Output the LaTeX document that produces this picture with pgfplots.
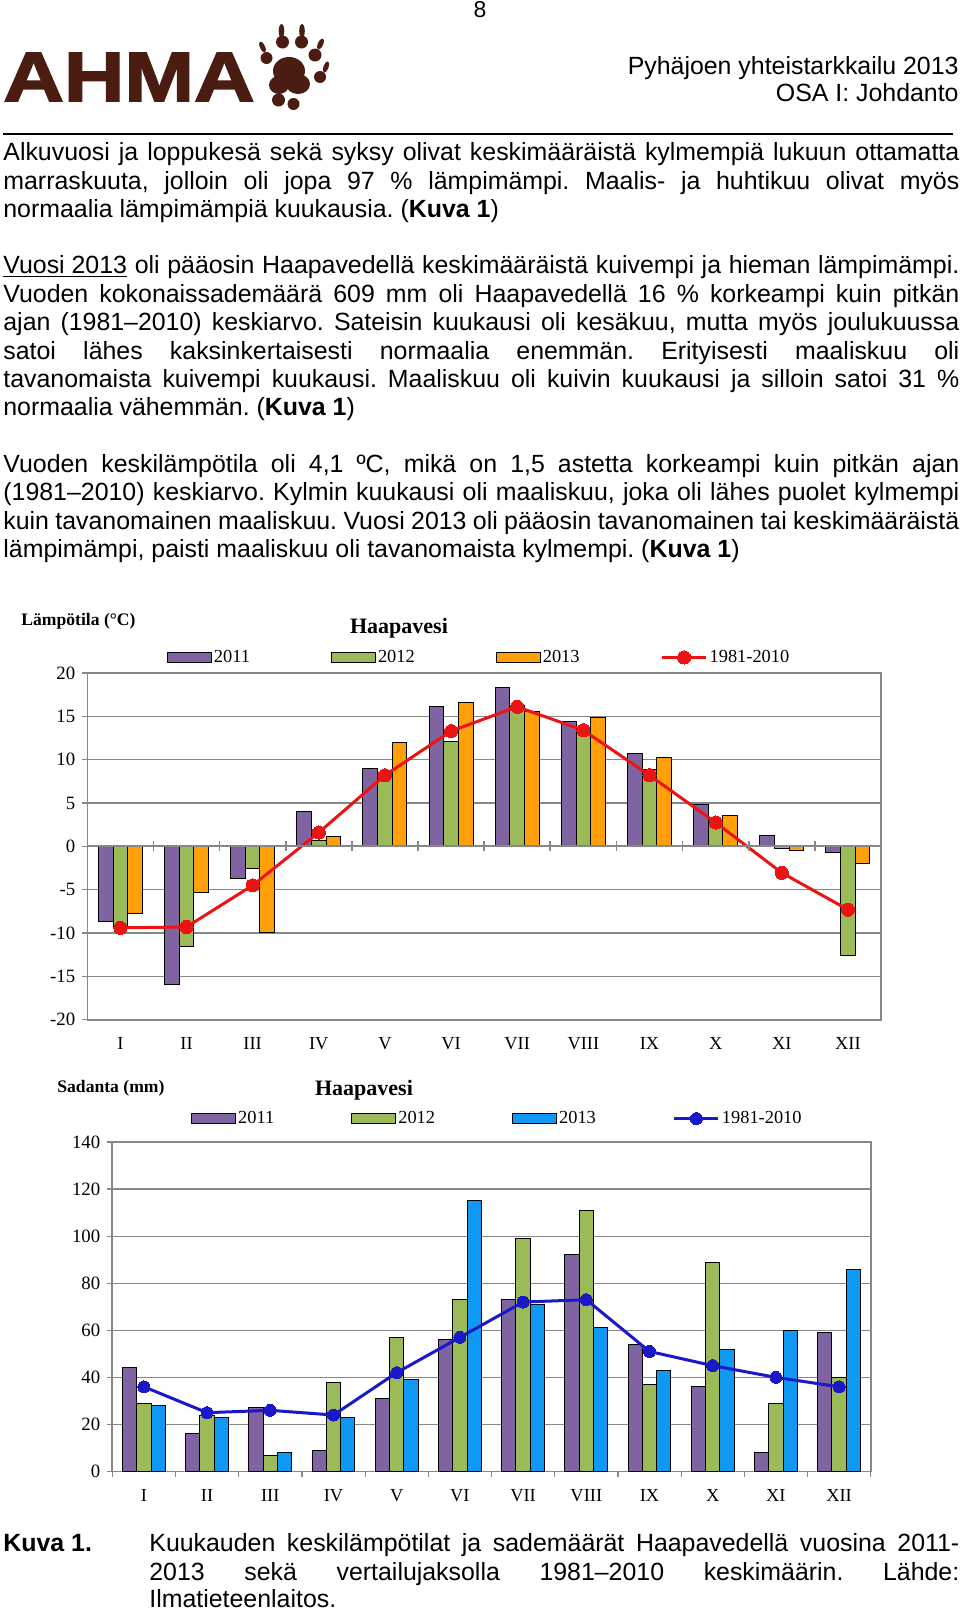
\documentclass[border=0pt]{standalone}
\usepackage{fontspec}
\setmainfont{Liberation Sans}
\newfontfamily\chartfont{Liberation Serif}
\newfontfamily\logofont{Liberation Sans Bold}[FakeStretch=1.2,FakeBold=2.5]
\usepackage{pgfplots}
\pgfplotsset{compat=1.18}
\usepackage{pgfplotstable}
\definecolor{c11}{RGB}{128,100,162}
\definecolor{c12}{RGB}{155,187,89}
\definecolor{c13}{RGB}{255,160,10}
\definecolor{c13b}{RGB}{16,152,245}
\definecolor{nred}{RGB}{235,20,20}
\definecolor{nblue}{RGB}{25,25,200}
\definecolor{gridc}{RGB}{135,135,135}
\definecolor{logobrown}{RGB}{74,28,18}
\newcommand\bodyfont{\fontsize{12.45}{14}\selectfont\frenchspacing}
\newcommand\cf{\chartfont\fontsize{9.2}{10}\selectfont}
\newcommand\tf{\chartfont\fontsize{9.4}{10}\selectfont}
\newcommand\jline[3]{\node[anchor=base west,inner sep=0pt,font=\bodyfont] at (#1) {\makebox[#2][s]{#3}};}
\newcommand\lline[2]{\node[anchor=base west,inner sep=0pt,font=\bodyfont] at (#1) {#2};}
\pgfplotsset{
  barleg/.style={legend image code/.code={\draw[##1] (0pt,-2.5pt) rectangle (22pt,2.5pt);}},
  lineleg/.style={legend image code/.code={\draw[##1,mark repeat=2,mark phase=2] plot coordinates {(0pt,0pt) (11pt,0pt) (22pt,0pt)};}},
}
\begin{document}
\frenchspacing
\pgfplotstableread{
m a b c n
1 -8.7 -9.5 -7.7 -9.4
2 -15.9 -11.6 -5.3 -9.3
3 -3.75 -2.6 -9.9 -4.5
4 4.0 0.7 1.1 1.6
5 9.0 8.0 12.0 8.2
6 16.1 12.1 16.6 13.3
7 18.3 16.3 15.6 16.1
8 14.4 13.4 14.9 13.4
9 10.7 8.85 10.2 8.2
10 4.8 2.9 3.6 2.75
11 1.3 -0.2 -0.45 -3.05
12 -0.75 -12.6 -2.0 -7.3
}\temptab
\pgfplotstableread{
m a b c n
1 44 29 28 36
2 16 24 23 25
3 27 7 8 26
4 9 38 23 24
5 31 57 39 42
6 56 73 115 57
7 73 99 71 72
8 92 111 61 73
9 54 37 43 51
10 36 89 52 45
11 8 29 60 40
12 59 40 86 36
}\raintab
\begin{tikzpicture}
\begin{scope}[x=0.5pt,y=-0.5pt]
\path[use as bounding box] (0,0) rectangle (960,1612);
\end{scope}
\clip (0pt,0pt) rectangle (480pt,-806pt);
\begin{scope}[x=0.5pt,y=-0.5pt]
% header
\node[anchor=base,inner sep=0pt,font=\fontsize{11.5}{13}\selectfont] at (480,17.5) {8};
\node[anchor=base west,inner sep=0pt,text=logobrown,font=\logofont\fontsize{34.9}{36}\selectfont] at (3,101) {AHMA};
\begin{scope}[fill=logobrown]
\fill (289,71) ellipse [x radius=16, y radius=14];
\fill (298,84) ellipse [x radius=12, y radius=10];
\fill (279,85) ellipse [x radius=10, y radius=9];
\fill (282.5,42) circle [radius=6.5];
\fill (281.5,31) ellipse [x radius=2.8, y radius=7];
\fill (301.5,42) circle [radius=6.5];
\fill (302,31) ellipse [x radius=2.8, y radius=7];
\fill (266.5,58) circle [radius=6];
\fill[rotate around={25:(262.5,47)}] (262.5,47) ellipse [x radius=2.5, y radius=6];
\fill (315,55) circle [radius=6.5];
\fill[rotate around={-25:(320.5,44)}] (320.5,44) ellipse [x radius=2.6, y radius=6];
\fill (320,77) circle [radius=6];
\fill[rotate around={-20:(326,67)}] (326,67) ellipse [x radius=2.5, y radius=6];
\fill (278.5,100) circle [radius=6.5];
\fill (293.5,104) circle [radius=6];
\end{scope}
\node[anchor=base east,inner sep=0pt,font=\bodyfont] at (959,74) {Pyhäjoen yhteistarkkailu 2013};
\node[anchor=base east,inner sep=0pt,font=\bodyfont] at (959,101) {OSA I: Johdanto};
\draw[line width=0.9pt] (3,134) -- (953,134);
% body
\jline{3,160.5}{478pt}{Alkuvuosi ja loppukesä sekä syksy olivat keskimääräistä kylmempiä lukuun ottamatta}
\jline{3,189}{478pt}{marraskuuta, jolloin oli jopa 97 \% lämpimämpi. Maalis- ja huhtikuu olivat myös}
\lline{3,217.5}{normaalia lämpimämpiä kuukausia. (\textbf{Kuva 1})}
\jline{3,273.5}{478pt}{\underline{Vuosi 2013} oli pääosin Haapavedellä keskimääräistä kuivempi ja hieman lämpimämpi.}
\jline{3,302}{478pt}{Vuoden kokonaissademäärä 609 mm oli Haapavedellä 16 \% korkeampi kuin pitkän}
\jline{3,330.5}{478pt}{ajan (1981–2010) keskiarvo. Sateisin kuukausi oli kesäkuu, mutta myös joulukuussa}
\jline{3,359}{478pt}{satoi lähes kaksinkertaisesti normaalia enemmän. Erityisesti maaliskuu oli}
\jline{3,387}{478pt}{tavanomaista kuivempi kuukausi. Maaliskuu oli kuivin kuukausi ja silloin satoi 31 \%}
\lline{3,415.5}{normaalia vähemmän. (\textbf{Kuva 1})}
\jline{3,472}{478pt}{Vuoden keskilämpötila oli 4,1 ºC, mikä on 1,5 astetta korkeampi kuin pitkän ajan}
\jline{3,500.5}{478pt}{(1981–2010) keskiarvo. Kylmin kuukausi oli maaliskuu, joka oli lähes puolet kylmempi}
\jline{3,529}{478pt}{kuin tavanomainen maaliskuu. Vuosi 2013 oli pääosin tavanomainen tai keskimääräistä}
\lline{3,557.5}{lämpimämpi, paisti maaliskuu oli tavanomaista kylmempi. (\textbf{Kuva 1})}
% chart texts
\node[anchor=base west,inner sep=0pt,font=\chartfont\bfseries\fontsize{8.8}{10}\selectfont] at (21,625) {Lämpötila (°C)};
\node[inner sep=0pt,font=\chartfont\bfseries\fontsize{11}{13}\selectfont] at (399,628) {Haapavesi};
\node[anchor=base west,inner sep=0pt,font=\chartfont\bfseries\fontsize{8.8}{10}\selectfont] at (57,1092) {Sadanta (mm)};
\node[inner sep=0pt,font=\chartfont\bfseries\fontsize{11}{13}\selectfont] at (364,1090) {Haapavesi};
% caption
\node[anchor=base west,inner sep=0pt,font=\bodyfont\bfseries] at (3,1551) {Kuva 1.};
\jline{149,1551}{405pt}{Kuukauden keskilämpötilat ja sademäärät Haapavedellä vuosina 2011-}
\jline{149,1580}{405pt}{2013 sekä vertailujaksolla 1981–2010 keskimäärin. Lähde:}
\lline{149,1607}{Ilmatieteenlaitos.}
\end{scope}
% chart 1
\begin{axis}[
  at={(43.65pt,-509.85pt)}, anchor=south west, scale only axis,
  width=396.85pt, height=173.35pt,
  xmin=0.5, xmax=12.5, ymin=-20, ymax=20,
  xtick={0.5,1.5,...,12.5}, x tick label as interval,
  xticklabels={I,II,III,IV,V,VI,VII,VIII,IX,X,XI,XII},
  xtick style={draw=none},
  ytick={-20,-15,-10,-5,0,5,10,15,20},
  yticklabels={-20,-15,-10,-5,0,5,10,15,20},
  tick pos=left, tick align=outside, major tick length=2.5pt,
  ytick style={gridc, line width=0.6pt},
  ymajorgrids, grid style={gridc, line width=0.6pt},
  axis line style={gridc, line width=0.8pt},
  xticklabel style={font=\cf, text=black, yshift=-3pt},
  yticklabel style={font=\tf, text=black},
  legend columns=4,
  legend style={at={(0.0998,1.045)}, anchor=west, draw=none, fill=none, inner sep=0pt, font=\cf,
    nodes={inner sep=1pt},
    /tikz/every even column/.append style={column sep=39.5pt}},
]
\addplot[ybar, bar width=0.222, bar shift=-0.222, fill=c11, draw=black, line width=0.5pt, barleg] table[x=m,y=a]{\temptab};
\addlegendentry{2011}
\addplot[ybar, bar width=0.222, bar shift=0, fill=c12, draw=black, line width=0.5pt, barleg] table[x=m,y=b]{\temptab};
\addlegendentry{2012}
\addplot[ybar, bar width=0.222, bar shift=0.222, fill=c13, draw=black, line width=0.5pt, barleg] table[x=m,y=c]{\temptab};
\addlegendentry{2013}
\addplot[nred, line width=1.5pt, mark=*, mark size=3.3pt, mark options={fill=nred, draw=nred, line width=0pt}, lineleg] table[x=m,y=n]{\temptab};
\addlegendentry{1981-2010}
\end{axis}
\begin{axis}[
  at={(43.65pt,-509.85pt)}, anchor=south west, scale only axis,
  width=396.85pt, height=173.35pt,
  xmin=0.5, xmax=12.5, ymin=-20, ymax=20,
  axis x line=middle, axis y line=none,
  xtick={0.5,1.5,...,12.5}, xticklabels={},
  tick align=center, major tick length=5pt,
  xtick style={gridc, line width=0.8pt},
  x axis line style={gridc, line width=1pt, -},
  ytick=\empty,
]
\end{axis}
% chart 2
\begin{axis}[
  at={(56.15pt,-735.75pt)}, anchor=south west, scale only axis,
  width=379.2pt, height=164.75pt,
  xmin=0.5, xmax=12.5, ymin=0, ymax=140,
  xtick={0.5,1.5,...,12.5}, x tick label as interval,
  xticklabels={I,II,III,IV,V,VI,VII,VIII,IX,X,XI,XII},
  ytick={0,20,...,140},
  yticklabels={0,20,40,60,80,100,120,140},
  tick pos=left, tick align=outside, major tick length=2.5pt,
  tick style={gridc, line width=0.6pt},
  ymajorgrids, grid style={gridc, line width=0.6pt},
  axis line style={gridc, line width=0.8pt},
  xticklabel style={font=\cf, text=black, yshift=-3pt},
  yticklabel style={font=\tf, text=black},
  legend columns=4,
  legend style={at={(0.1035,1.071)}, anchor=west, draw=none, fill=none, inner sep=0pt, font=\cf,
    nodes={inner sep=1pt},
    /tikz/every even column/.append style={column sep=37.5pt}},
]
\addplot[ybar, bar width=0.226, bar shift=-0.226, fill=c11, draw=black, line width=0.5pt, barleg] table[x=m,y=a]{\raintab};
\addlegendentry{2011}
\addplot[ybar, bar width=0.226, bar shift=0, fill=c12, draw=black, line width=0.5pt, barleg] table[x=m,y=b]{\raintab};
\addlegendentry{2012}
\addplot[ybar, bar width=0.226, bar shift=0.226, fill=c13b, draw=black, line width=0.5pt, barleg] table[x=m,y=c]{\raintab};
\addlegendentry{2013}
\addplot[nblue, line width=1.5pt, mark=*, mark size=3pt, mark options={fill=nblue, draw=nblue, line width=0pt}, lineleg] table[x=m,y=n]{\raintab};
\addlegendentry{1981-2010}
\end{axis}
\end{tikzpicture}
\end{document}
